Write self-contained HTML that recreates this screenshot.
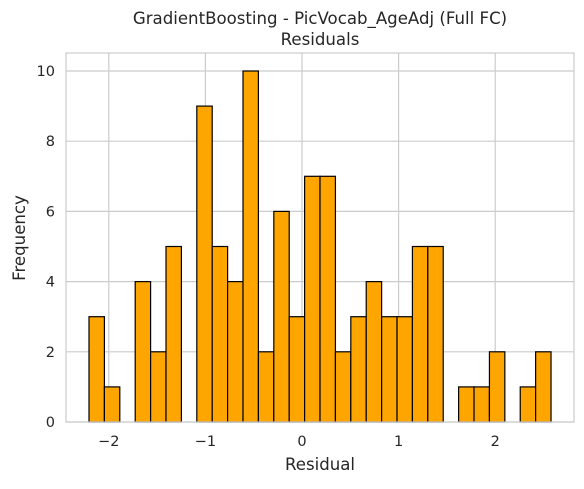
<!DOCTYPE html>
<html><head><meta charset="utf-8"><style>
body{margin:0;background:#fff;}
svg text{font-family:"DejaVu Sans","Liberation Sans",sans-serif;fill:#262626;}
</style></head><body>
<svg id="chart" width="584" height="484" xmlns="http://www.w3.org/2000/svg">
<text x="320" y="24" text-anchor="middle" font-size="16.6">GradientBoosting - PicVocab_AgeAdj (Full FC)</text>
<text x="320" y="45" text-anchor="middle" font-size="16.6">Residuals</text>
<g id="grid"></g><g id="bars"></g><g id="ticks"></g>
<rect x="66" y="53" width="508" height="369" fill="none" stroke="#ccc" stroke-width="1.2"/>
<text x="320" y="470" text-anchor="middle" font-size="16.6">Residual</text>
<text transform="translate(25,238) rotate(-90)" text-anchor="middle" font-size="16.6">Frequency</text>
</svg>
<script>
const counts=[3,1,0,4,2,5,0,9,5,4,10,2,6,3,7,7,2,3,4,3,3,5,5,0,1,1,2,0,1,2];
const binStart=-2.205, binEnd=2.578;
const xTicks=[-2,-1,0,1,2];
const xTickLabels=["\u22122","\u22121","0","1","2"];
const yTicks=[0,2,4,6,8,10];
const X=v=>302+v*96.6, Y=v=>422-v*35.1;
const ns="http://www.w3.org/2000/svg";
function mk(t,a,p){const e=document.createElementNS(ns,t);for(const k in a)e.setAttribute(k,a[k]);p.appendChild(e);return e;}
const g=document.getElementById('grid'),b=document.getElementById('bars'),tk=document.getElementById('ticks');
xTicks.forEach((v,i)=>{
 const l=mk('line',{x1:X(v),x2:X(v),y1:53,y2:422,stroke:'#ccc','stroke-width':1.2},g);
 
 
 const t=mk('text',{x:X(v),y:446,'text-anchor':'middle','font-size':14.5},tk);t.textContent=xTickLabels[i];
 
 
});
yTicks.forEach(v=>{
 const l=mk('line',{x1:66,x2:574,y1:Y(v),y2:Y(v),stroke:'#ccc','stroke-width':1.2},g);
 
 
 const t=mk('text',{x:55,y:Y(v)+5,'text-anchor':'end','font-size':14.5},tk);t.textContent=v;
 
 
});
const w=(binEnd-binStart)/counts.length;
counts.forEach((c,i)=>{
 if(!c)return;
 const x0=X(binStart+i*w),x1=X(binStart+(i+1)*w);
 const r=mk('rect',{x:x0,y:Y(c),width:x1-x0,height:Y(0)-Y(c),fill:'#ffa500',stroke:'#000','stroke-width':1.2},b);
 
 
});
</script>
</body></html>
